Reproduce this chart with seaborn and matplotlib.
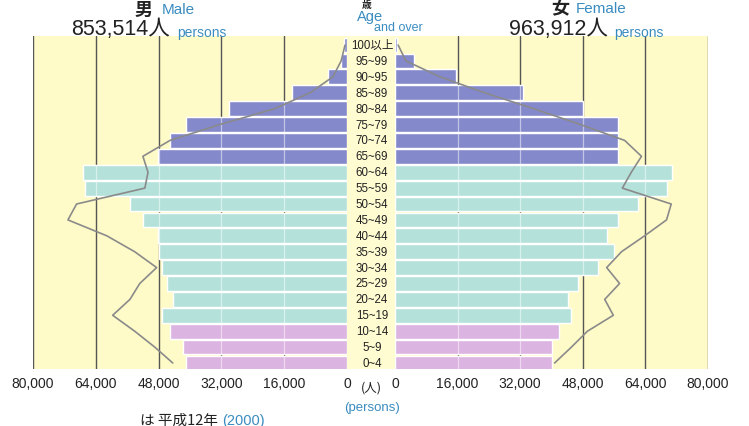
import matplotlib
matplotlib.use("Agg")
import matplotlib.pyplot as plt
import seaborn as sns
import pandas as pd

sns.set_theme(style="white")
plt.rcParams['font.family'] = ['Liberation Sans', 'Noto Sans CJK JP', 'DejaVu Sans']

# age groups, top to bottom
ages = ['100以上', '95~99', '90~95', '85~89', '80~84', '75~79', '70~74', '65~69',
        '60~64', '55~59', '50~54', '45~49', '40~44', '35~39', '30~34', '25~29',
        '20~24', '15~19', '10~14', '5~9', '0~4']
groups = ['old'] * 8 + ['work'] * 10 + ['young'] * 3

# current population (bars)
male = [800, 1500, 4850, 14000, 30100, 41000, 45100, 48200,
        67300, 66800, 55300, 52000, 48200, 47900, 47200, 45900,
        44400, 47200, 45100, 41800, 41000]
female = [500, 4900, 15500, 32600, 48000, 56900, 56900, 56900,
          70900, 69600, 62200, 56900, 54100, 56100, 51800, 46900,
          44100, 45100, 41800, 40000, 40000]

# 2000 (line)
male_2000 = [500, 1500, 3600, 9400, 18400, 32400, 45100, 52000,
             50700, 51500, 68900, 71100, 61200, 54100, 48500, 52800,
             55300, 59700, 54100, 49000, 44400]
female_2000 = [800, 2800, 11500, 22900, 35400, 47400, 58700, 63000,
               60400, 58100, 70600, 69400, 63800, 57900, 54100, 57400,
               53600, 55800, 49200, 45100, 40800]

ticks = [0, 16000, 32000, 48000, 64000, 80000]

df = pd.DataFrame({'age': ages, 'group': groups, 'male': male, 'female': female})
palette = {'old': '#8489cc', 'work': '#b4e2da', 'young': '#dcb4e2'}
yellow = '#fffbc8'
blue = '#3a8cc0'

fig = plt.figure(figsize=(7.49, 4.27), dpi=100)
fig.patch.set_facecolor('white')

W, H = 749, 427
def fx(px):
    return px / W
def fy(py):
    return 1 - py / H

bottom = fy(370)
height = (370 - 37) / H
axL = fig.add_axes([fx(33), bottom, (347 - 33) / W, height])
axR = fig.add_axes([fx(395), bottom, 313 / W, height])
axM = fig.add_axes([fx(347), bottom, 48 / W, height])

ylim = (20.38, -0.57)

for ax, col, line in [(axL, 'male', male_2000), (axR, 'female', female_2000)]:
    ax.set_facecolor(yellow)
    for t in ticks[1:]:
        ax.axvline(t, color='#555555', lw=1.0, zorder=0.5)
    sns.barplot(data=df, x=col, y='age', hue='group', palette=palette, dodge=False,
                order=ages, width=0.93, saturation=1, legend=False, ax=ax, zorder=2)
    # light grid showing through the bars
    vals = df[col].tolist()
    for t in ticks[1:-1]:
        for i, v in enumerate(vals):
            if v > t:
                ax.vlines(t, i - 0.465, i + 0.465, color='white', lw=0.9, alpha=0.5, zorder=3)
    ax.plot(line, range(len(ages)), color='#8a8a8a', lw=1.2, zorder=4)
    ax.set_ylim(*ylim)
    ax.set_xticks(ticks)
    ax.set_xticklabels([f'{t:,}' for t in ticks], fontsize=10, color='#222222')
    ax.tick_params(axis='x', length=0, pad=5)
    ax.set_yticks([])
    ax.set_xlabel('')
    ax.set_ylabel('')
    for s in ax.spines.values():
        s.set_visible(False)

axL.set_xlim(80000, 0)
axR.set_xlim(0, 80000)

axM.set_facecolor('#fffcd2')
axM.set_xlim(0, 1)
axM.set_ylim(*ylim)
axM.set_xticks([])
axM.set_yticks([])
for s in axM.spines.values():
    s.set_visible(False)
for i, a in enumerate(ages):
    axM.text(0.52, i, a, ha='center', va='center', fontsize=8.3, color='#222222',
             family=['Liberation Sans', 'Noto Sans CJK JP'])

# headings
fig.text(fx(135), fy(10), '男', fontsize=13, fontweight='bold', ha='left', va='center',
         family=['Noto Sans CJK JP'], color='#222222')
fig.text(fx(162), fy(10), 'Male', fontsize=11, ha='left', va='center', color=blue)
fig.text(fx(71), fy(30), '853,514人', fontsize=15.5, ha='left', va='center', color='#222222',
         family=['Liberation Sans', 'Noto Sans CJK JP'])
fig.text(fx(177), fy(33), 'persons', fontsize=10, ha='left', va='center', color=blue)

fig.text(fx(551), fy(9), '女', fontsize=13, fontweight='bold', ha='left', va='center',
         family=['Noto Sans CJK JP'], color='#222222')
fig.text(fx(576), fy(9), 'Female', fontsize=11, ha='left', va='center', color=blue)
fig.text(fx(509), fy(30), '963,912人', fontsize=15.5, ha='left', va='center', color='#222222',
         family=['Liberation Sans', 'Noto Sans CJK JP'])
fig.text(fx(614), fy(33), 'persons', fontsize=10, ha='left', va='center', color=blue)

fig.text(fx(367), fy(5), '歳', fontsize=7, fontweight='bold', ha='center', va='center',
         family=['Noto Sans CJK JP'], color='#222222')
fig.text(fx(370), fy(17), 'Age', fontsize=10.5, ha='center', va='center', color=blue)
fig.text(fx(398), fy(28), 'and over', fontsize=9, ha='center', va='center', color=blue)

fig.text(fx(371), fy(388), '(人)', fontsize=9, ha='center', va='center', color='#222222',
         family=['Noto Sans CJK JP'])
fig.text(fx(372), fy(408), '(persons)', fontsize=9.5, ha='center', va='center', color=blue)

# caption near the bottom edge
fig.text(fx(140), fy(414), 'は 平成12年', fontsize=10.5, ha='left', va='top', color='#222222',
         family=['Noto Sans CJK JP'])
fig.text(fx(222), fy(414), '(2000)', fontsize=10.5, ha='left', va='top', color=blue)

fig.savefig('out.png', dpi=100)
